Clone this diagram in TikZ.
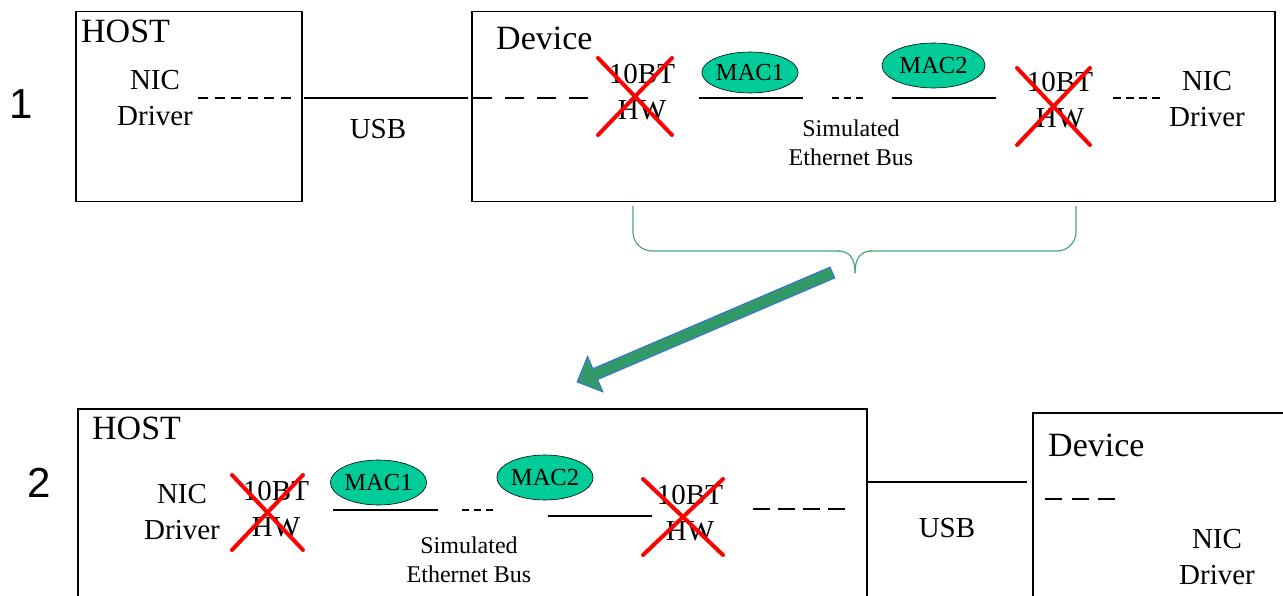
\documentclass[tikz,border=0pt]{standalone}
\usepackage{fontspec}
\setmainfont{Liberation Serif}
\newfontfamily\numfont{Liberation Sans}
\usetikzlibrary{shapes.geometric}
\definecolor{macgreen}{RGB}{0,204,153}
\definecolor{bracegreen}{RGB}{76,166,118}
\definecolor{arrowgreen}{RGB}{51,153,102}
\definecolor{arrowblue}{RGB}{51,102,255}
\tikzset{
  frame/.style={draw=black, line width=1.5pt, anchor=north west, inner sep=0pt},
  title/.style={anchor=west, inner sep=0pt, font=\fontsize{34}{40}\selectfont},
  lbl/.style={align=center, inner sep=0pt, font=\fontsize{29}{36}\selectfont},
  bus/.style={align=center, inner sep=0pt, font=\fontsize{24}{29}\selectfont},
  num/.style={inner sep=0pt, font=\numfont\fontsize{42}{48}\selectfont},
  mac/.style={ellipse, draw=black, line width=0.6pt, fill=macgreen, inner sep=0pt, font=\fontsize{24.5}{28}\selectfont},
  wire/.style={line width=1.8pt},
  dwire/.style={line width=2.2pt},
  cross/.style={draw=red, line width=4pt, line cap=round},
  brace/.style={draw=bracegreen, line width=1.2pt},
}
\begin{document}
\begin{tikzpicture}[x=1pt,y=-1pt]
\useasboundingbox (0,0) rectangle (1283,596);
\clip (0,0) rectangle (1283,596);

% ---------------- Panel 1 ----------------
\node[num] (n1) at (21,104) {1};
\node[frame, minimum width=226pt, minimum height=190pt] (host1) at (75,11) {};
\node[title] (host1t) at (81,31) {HOST};
\node[lbl] (nic1) at (155,98) {NIC\\Driver};
\coordinate (h1a) at (198,98);
\coordinate (h1b) at (291,98);
\draw[dwire, dash pattern=on 10pt off 6.5pt] (h1a) -- (h1b);

\node[frame, minimum width=803pt, minimum height=190pt] (dev1) at (471,11) {};
\node[title] (dev1t) at (496,38) {Device};
\coordinate (u1a) at (304,98);
\coordinate (u1b) at (468,98);
\draw[wire] (u1a) -- (u1b);
\node[lbl] (usb1) at (378,129) {USB};

\coordinate (d1a) at (473,98);
\coordinate (d1b) at (590,98);
\draw[dwire, dash pattern=on 19pt off 13pt] (d1a) -- (d1b);

\node[lbl] (hw1a) at (642,92.5) {10BT\\HW};
\draw[cross] (598,58) -- (672,135);
\draw[cross] (598,135) -- (672,58);

\node[mac, minimum width=94pt, minimum height=41pt] (mac1a) at (750,72.5) {MAC1};
\coordinate (l1a) at (699,98);
\coordinate (l1b) at (803,98);
\draw[wire] (l1a) -- (l1b);
\coordinate (s1a) at (832,98);
\coordinate (s1b) at (863,98);
\draw[dwire, dash pattern=on 7pt off 5pt] (s1a) -- (s1b);
\node[mac, minimum width=103pt, minimum height=45pt] (mac2a) at (933.5,65.5) {MAC2};
\coordinate (l2a) at (892,98);
\coordinate (l2b) at (996,98);
\draw[wire] (l2a) -- (l2b);
\node[bus] (sim1) at (851,143) {Simulated\\Ethernet Bus};

\node[lbl] (hw1b) at (1060,100.5) {10BT\\HW};
\draw[cross] (1017,68) -- (1090,145);
\draw[cross] (1017,145) -- (1090,68);
\coordinate (e1a) at (1113,98);
\coordinate (e1b) at (1160,98);
\draw[dwire, dash pattern=on 8pt off 5pt] (e1a) -- (e1b);
\node[lbl] (nic1b) at (1207,99.5) {NIC\\Driver};

% brace
\draw[brace, rounded corners=19pt] (633,206) -- (633,251) -- (840,251);
\draw[brace] (838,251) .. controls (850,251) and (855,259) .. (855,273);
\draw[brace] (872,251) .. controls (860,251) and (855,259) .. (855,273);
\draw[brace, rounded corners=19pt] (870,251) -- (1076,251) -- (1076,206);

% big arrow
\draw[fill=arrowgreen, draw=arrowblue, line width=0.8pt, line join=miter]
  (830.1,267) -- (592.9,368.6) -- (587.6,356.2) -- (577,382) -- (603,392)
  -- (597.7,379.6) -- (834.9,278) -- cycle;

% ---------------- Panel 2 ----------------
\node[num] (n2) at (39,483) {2};
\node[frame, minimum width=789pt, minimum height=260pt] (host2) at (77,408) {};
\node[title] (host2t) at (92,428) {HOST};
\node[lbl] (nic2) at (182,512) {NIC\\Driver};
\node[lbl] (hw2a) at (276,509) {10BT\\HW};
\draw[cross] (232,475) -- (303,550);
\draw[cross] (232,550) -- (303,475);

\node[mac, minimum width=89pt, minimum height=45pt] (mac1b) at (378.5,482.5) {MAC1};
\coordinate (l3a) at (333,510);
\coordinate (l3b) at (438,510);
\draw[wire] (l3a) -- (l3b);
\coordinate (s2a) at (462,510);
\coordinate (s2b) at (493,510);
\draw[dwire, dash pattern=on 7pt off 5pt] (s2a) -- (s2b);
\node[mac, minimum width=88pt, minimum height=45pt] (mac2b) at (545,477.5) {MAC2};
\coordinate (l4a) at (548,516);
\coordinate (l4b) at (652,516);
\draw[wire] (l4a) -- (l4b);
\node[bus] (sim2) at (469,560) {Simulated\\Ethernet Bus};

\node[lbl] (hw2b) at (690,513.5) {10BT\\HW};
\draw[cross] (643,479) -- (723,555);
\draw[cross] (643,555) -- (723,479);
\coordinate (e2a) at (753,509);
\coordinate (e2b) at (845,509);
\draw[dwire, dash pattern=on 17pt off 8pt] (e2a) -- (e2b);

\node[frame, minimum width=300pt, minimum height=250pt] (dev2) at (1032,412) {};
\coordinate (u2a) at (866,482);
\coordinate (u2b) at (1027,482);
\draw[wire] (u2a) -- (u2b);
\node[lbl] (usb2) at (947,528) {USB};
\node[title] (dev2t) at (1048,445) {Device};
\coordinate (d2a) at (1045,499);
\coordinate (d2b) at (1115,499);
\draw[dwire, dash pattern=on 17pt off 9.5pt] (d2a) -- (d2b);
\node[lbl] (nic2b) at (1217,557) {NIC\\Driver};
\end{tikzpicture}
\end{document}
